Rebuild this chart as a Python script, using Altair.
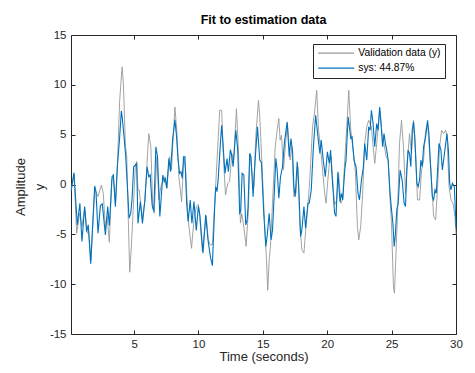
import altair as alt
import pandas as pd

# ---- data ----
val_t = [0.12, 0.33, 0.54, 0.77, 0.95, 1.16, 1.37, 1.47, 1.65, 1.94, 2.2, 2.46, 2.61, 2.77, 2.9, 3.08,
         3.26, 3.39, 3.55, 3.7, 3.88, 4.07, 4.17, 4.33, 4.43, 4.53, 4.66, 4.79, 4.95, 5.1, 5.2, 5.3,
         5.4, 5.62, 5.83, 6.14, 6.3, 6.45, 6.56, 6.77, 6.92, 7.08, 7.34, 7.54, 7.75, 7.9, 8.17, 8.33,
         8.48, 8.69, 8.87, 9.0, 9.2, 9.46, 9.67, 9.85, 9.99, 10.1, 10.3, 10.45, 10.61, 10.76, 10.92,
         11.08, 11.29, 11.44, 11.65, 11.8, 11.96, 12.1, 12.27, 12.42, 12.58, 12.73, 12.95, 13.1, 13.26,
         13.36, 13.52, 13.7, 13.88, 14.0, 14.14, 14.3, 14.45, 14.66, 14.75, 14.92, 15.12, 15.28, 15.38,
         15.49, 15.59, 15.75, 15.96, 16.11, 16.24, 16.34, 16.45, 16.6, 16.76, 16.91, 17.12, 17.26,
         17.41, 17.57, 17.72, 17.88, 18.03, 18.19, 18.35, 18.5, 18.66, 18.86, 19.02, 19.18, 19.33,
         19.49, 19.64, 19.8, 19.91, 20.05, 20.16, 20.31, 20.47, 20.57, 20.73, 20.88, 21.05, 21.2,
         21.36, 21.52, 21.67, 21.83, 22.03, 22.19, 22.34, 22.45, 22.6, 22.75, 22.91, 23.07, 23.22,
         23.43, 23.59, 23.69, 23.84, 24.0, 24.1, 24.25, 24.41, 24.57, 24.73, 24.88, 24.99, 25.14,
         25.22, 25.35, 25.45, 25.61, 25.77, 25.92, 26.08, 26.23, 26.39, 26.54, 26.7, 26.86, 27.01,
         27.17, 27.33, 27.48, 27.64, 27.79, 27.9, 28.05, 28.26, 28.42, 28.57, 28.73, 28.88, 29.04,
         29.2, 29.3, 29.46, 29.61, 29.77, 29.92, 30.0]
val_y = [-0.6, 1.1, -4.9, -2.9, -4.2, -2.4, -4.9, -4.7, -7.6, -0.55, -1.2, -0.05, -0.9, -4.4, -3.2, -5.8,
         0.45, 0.8, -1.9, 1.8, 8.45, 11.8, 10.1, 3.8, 2.8, -2.55, -8.8, -6.2, -2.0, 1.9, 2.3, -0.55,
         -0.55, -3.4, -1.7, 5.1, 3.8, -2.2, -2.9, 2.8, -1.55, -0.2, 0.78, -0.4, 2.8, 1.45, 7.78, 5.1,
         0.78, -1.72, 2.78, 1.45, -3.55, -6.4, -3.2, -2.2, -2.0, -3.2, -6.7, -4.9, -3.2, -5.55, -6.05,
         -6.05, -1.2, 2.45, 7.45, 7.45, 2.12, -1.05, 0.1, 0.3, 3.12, 2.45, 7.6, 3.45, -3.88,
         -2.9, -4.2, -6.2, -2.5, 3.1, 1.45, -0.2, 4.78, 8.45, 7.0, 2.45, -3.55, -7.55, -10.6,
         -7.55, -6.2, -1.9, 3.78, 5.45, 6.62, 4.45, 4.95, 1.45, 4.12, 6.12, 2.45, 3.78,
         -1.22, -0.88, 1.78, -4.2, -6.55, -6.88, -4.2, -2.05, 0.78, 5.78, 7.28, 9.45, 5.45,
         3.45, 1.45, -0.88, -1.88, 0.5, 2.0, 2.78, -0.5, -2.05, -1.6, 1.1, -1.88, -1.5,
         2.45, 5.8, 9.45, 5.45, 3.2, 1.2, -4.2, -5.55, -4.2, -0.9, 4.1, 5.8, 6.45,
         5.8, 3.45, 2.12, 4.1, 6.45, 7.45, 5.1, 4.1, 2.78, 2.45, -1.55, -3.88, -10.2,
         -10.9, -6.5, -3.2, 4.1, 6.45, 3.8, -0.88, 2.45, 5.1, 3.1, 6.45, 3.1, -1.55,
         -1.55, 1.45, 2.45, 5.45, 6.12, 4.1, 1.45, -3.2, -3.55, -0.2, 3.8, 5.45, 5.1,
         5.45, 4.78, -0.2, -1.55, -1.9, -3.2, -5.0]

sys_t = [0.12, 0.33, 0.59, 0.79, 0.95, 1.16, 1.31, 1.44, 1.63, 1.94, 2.04, 2.2, 2.38, 2.53, 2.77, 2.95,
         3.08, 3.29, 3.39, 3.55, 3.7, 3.88, 4.01, 4.09, 4.22, 4.35, 4.48, 4.61, 4.74, 4.84, 4.97,
         5.2, 5.3, 5.49, 5.65, 5.83, 6.01, 6.14, 6.25, 6.4, 6.53, 6.69, 6.82, 7.0, 7.13, 7.23, 7.34,
         7.44, 7.54, 7.7, 7.83, 7.99, 8.17, 8.3, 8.4, 8.53, 8.64, 8.74, 8.84, 8.95, 9.08, 9.2, 9.36,
         9.49, 9.65, 9.83, 9.99, 10.1, 10.2, 10.35, 10.56, 10.74, 10.92, 11.08, 11.26, 11.34, 11.44,
         11.54, 11.7, 11.8, 11.9, 12.06, 12.22, 12.32, 12.48, 12.58, 12.69, 12.9, 13.05, 13.2, 13.28,
         13.39, 13.52, 13.67, 13.78, 13.85, 13.98, 14.08, 14.24, 14.4, 14.58, 14.76, 14.89, 15.07,
         15.23, 15.33, 15.49, 15.64, 15.75, 15.85, 16.01, 16.11, 16.24, 16.37, 16.53, 16.68, 16.89,
         17.05, 17.18, 17.31, 17.41, 17.51, 17.67, 17.77, 17.93, 18.03, 18.19, 18.32, 18.5, 18.6,
         18.76, 18.91, 19.1, 19.28, 19.43, 19.53, 19.69, 19.85, 20.01, 20.16, 20.26, 20.37, 20.47,
         20.57, 20.68, 20.83, 20.99, 21.1, 21.2, 21.36, 21.46, 21.62, 21.72, 21.83, 21.93, 22.08,
         22.24, 22.39, 22.5, 22.66, 22.81, 22.91, 23.07, 23.22, 23.33, 23.43, 23.56, 23.69, 23.84,
         23.95, 24.07, 24.2, 24.3, 24.41, 24.52, 24.62, 24.73, 24.88, 24.99, 25.1, 25.2, 25.3, 25.4,
         25.51, 25.66, 25.82, 25.97, 26.08, 26.18, 26.28, 26.39, 26.49, 26.6, 26.7, 26.8, 26.96,
         27.06, 27.17, 27.27, 27.38, 27.48, 27.64, 27.79, 27.9, 28.0, 28.16, 28.26, 28.37, 28.47,
         28.57, 28.68, 28.83, 28.94, 29.04, 29.2, 29.3, 29.41, 29.51, 29.61, 29.72, 29.87, 29.97, 30.0]
sys_y = [-0.55, 1.18, -4.05, -1.88, -5.72, -2.22, -4.72, -4.05, -7.95, -0.15, -0.72, -4.88, -2.12, -1.95, -5.05, -2.22,
         -4.12, 0.78, 0.95, -2.22, 1.78, 4.78, 7.38, 6.6, 4.78, 2.78, -0.22, -3.38, -2.9, -1.48, 1.78,
         2.1, -3.9, -1.7, -3.9, -1.7, 1.78, 0.78, 0.95, -2.05, -2.7, 3.78, 2.78, -3.2, -0.88, 0.95, 0.28,
         0.6, -0.38, 2.6, 1.28, 4.45, 6.5, 4.78, 2.78, 1.12, 1.28, 0.62, 2.78, 2.78, -1.88, -3.72, -1.55,
         -3.88, -1.72, -4.6, -2.2, -3.0, -4.55, -6.9, -3.05, -5.55, -7.2, -8.15, -2.2, -0.22, -0.72,
         0.7, 4.1, 5.95, 4.1, 1.12, 2.6, 1.28, 3.5, 2.95, 1.78, 5.45, 3.45, -2.88, -2.7,
         1.12, 0.95, -4.05, -3.55, -2.2, 3.12, 2.78, -1.22, 2.45, 5.78, 2.45, 2.2, -2.88,
         -6.22, -5.22, -2.88, -5.55, -4.55, -1.88, 2.62, 1.45, -1.38, 0.78, 1.78, 4.28, 6.28,
         2.78, 4.62, 3.28, -0.22, -1.22, 2.28, 0.3, -5.22, -4.55, -2.22, -4.38, -1.88, -1.88,
         -0.55, 3.45, 6.95, 4.78, 3.12, 4.45, 2.45, 0.78, 3.28, 2.12, 3.45, 0.95, -0.88,
         -2.88, -3.2, 1.28, -1.72, -0.9, -1.55, 1.45, 2.45, 6.78, 5.78, 4.62, 4.78, 2.45,
         1.78, -0.88, -1.55, 0.45, 1.78, 4.12, 2.45, 5.78, 5.45, 7.45, 6.12, 3.78, 6.12,
         5.45, 7.78, 5.78, 3.78, 5.1, 4.1, 3.45, 2.45, -0.88, -2.5, -3.88, -6.22, -4.88, -2.55,
         -1.9, 1.45, 0.45, -1.88, -2.2, 1.45, 3.45, 3.1, 1.78, 5.45, 6.28, 4.78, 0.12,
         -0.22, 0.45, 2.45, 1.78, 3.78, 4.78, 6.45, 5.1, 2.45, -1.22, -1.55, -0.55, -0.88,
         1.45, 4.12, 3.45, 1.45, 2.45, 4.12, 5.12, 3.45, 0.12, -0.55, 0.12, -0.2, -3.2, -4.3]

series_names = ["Validation data (y)", "sys: 44.87%"]
series_colors = ["#999999", "#0072BD"]
x_ticks = [5, 10, 15, 20, 25, 30]
y_ticks = [-15, -10, -5, 0, 5, 10, 15]

df = pd.concat([
    pd.DataFrame({"t": val_t, "v": val_y, "series": series_names[0]}),
    pd.DataFrame({"t": sys_t, "v": sys_y, "series": series_names[1]}),
], ignore_index=True)

W, H = 385, 299
FONT = "Liberation Sans"
INK = "#262626"

xs = alt.Scale(domain=[0.1, 30], nice=False, zero=False)
ys = alt.Scale(domain=[-15, 15], nice=False, zero=False)

legend = alt.Legend(
    title=None, orient="none", legendX=242, legendY=9,
    symbolType="M-1,0H8", symbolSize=64, symbolStrokeWidth=1.3,
    labelOffset=31, labelFont=FONT, labelFontSize=10.3, labelColor="#000",
    rowPadding=4, padding=4, strokeColor=INK, fillColor="white", cornerRadius=0,
)
color = alt.Color("series:N", scale=alt.Scale(domain=series_names, range=series_colors), legend=legend)

minus_expr = "datum.value < 0 ? '-' + abs(datum.value) : '' + datum.value"

x_main = alt.Axis(values=x_ticks, title="Time (seconds)", tickSize=0, domain=False, grid=False,
                  labelFont=FONT, labelFontSize=11.5, labelColor=INK, labelPadding=4, labelFlush=False,
                  labelOverlap=False, titleFont=FONT, titleFontSize=13, titleFontWeight="normal",
                  titleColor=INK, titlePadding=1)
y_main = alt.Axis(values=y_ticks, title=["Amplitude", "y"], tickSize=0, domain=False, grid=False,
                  labelExpr=minus_expr, labelFont=FONT, labelFontSize=11.5, labelColor=INK,
                  labelPadding=5, labelFlush=False, labelOverlap=False,
                  titleFont=FONT, titleFontSize=13, titleFontWeight="normal", titleColor=INK,
                  titleLineHeight=19, titleBaseline="middle", titleAlign="center",
                  titleAngle=270, titleX=-51, titleY=H / 2 + 2)

def tick_axis(orient, offset, vals):
    return alt.Axis(orient=orient, offset=offset, values=vals, labels=False, tickSize=4,
                    tickColor=INK, tickWidth=1, domain=False, grid=False, title=None)

base = alt.Chart(df)

gray = base.transform_filter(alt.datum.series == series_names[0]).mark_line(strokeWidth=0.9).encode(
    x=alt.X("t:Q", scale=xs, axis=x_main),
    y=alt.Y("v:Q", scale=ys, axis=y_main),
    color=color,
)
blue = base.transform_filter(alt.datum.series == series_names[1]).mark_line(strokeWidth=1.1).encode(
    x=alt.X("t:Q", scale=xs, axis=None),
    y=alt.Y("v:Q", scale=ys, axis=None),
    color=color,
)
ticks_a = base.mark_line(strokeOpacity=0).encode(
    x=alt.X("t:Q", scale=xs, axis=tick_axis("top", -H, x_ticks)),
    y=alt.Y("v:Q", scale=ys, axis=tick_axis("right", -W, y_ticks)),
    detail="series:N",
)
ticks_b = base.mark_line(strokeOpacity=0).encode(
    x=alt.X("t:Q", scale=xs, axis=tick_axis("bottom", -H, x_ticks)),
    y=alt.Y("v:Q", scale=ys, axis=tick_axis("left", -W, y_ticks)),
    detail="series:N",
)

chart = alt.layer(gray, blue, ticks_a, ticks_b).resolve_axis(
    x="independent", y="independent"
).properties(
    width=W, height=H,
    title=alt.TitleParams("Fit to estimation data", font=FONT, fontSize=12.5, fontWeight="bold",
                          color="#000", offset=3, anchor="middle", frame="group"),
    autosize=alt.AutoSizeParams(type="none"),
    padding={"left": 63, "top": 27, "right": 11, "bottom": 31},
    background="white",
).configure_view(stroke=INK, strokeWidth=1)

chart.save("out.html", embed_options={"renderer": "svg", "actions": False})
